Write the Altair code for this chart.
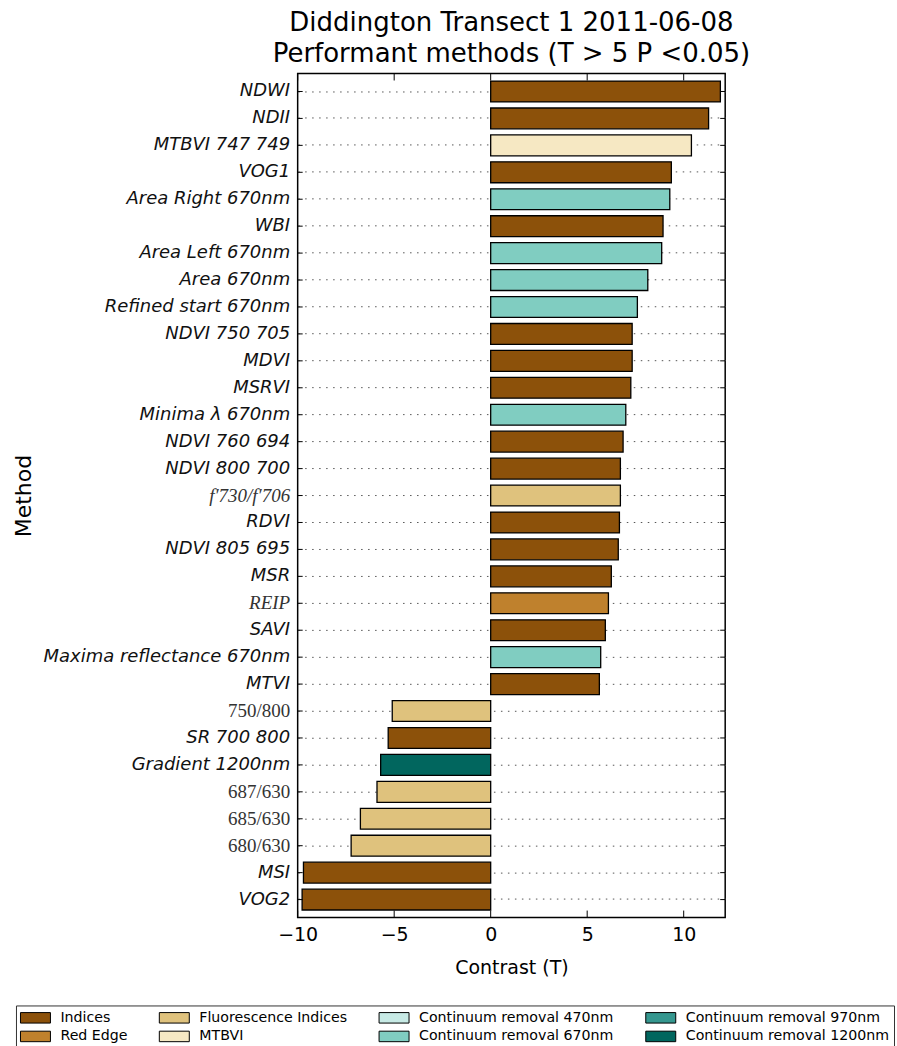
import altair as alt
import pandas as pd

methods = [
    "NDWI", "NDII", "MTBVI 747 749", "VOG1", "Area Right 670nm", "WBI",
    "Area Left 670nm", "Area 670nm", "Refined start 670nm", "NDVI 750 705",
    "MDVI", "MSRVI", "Minima λ 670nm", "NDVI 760 694", "NDVI 800 700",
    "f′730/f′706", "RDVI", "NDVI 805 695", "MSR", "REIP", "SAVI",
    "Maxima reflectance 670nm", "MTVI", "750/800", "SR 700 800",
    "Gradient 1200nm", "687/630", "685/630", "680/630", "MSI", "VOG2",
]
contrast = [
    11.90, 11.29, 10.40, 9.36, 9.28, 8.93,
    8.86, 8.14, 7.60, 7.33,
    7.33, 7.26, 7.00, 6.86, 6.72,
    6.72, 6.67, 6.61, 6.25, 6.10, 5.94,
    5.70, 5.63, -5.10, -5.31,
    -5.70, -5.89, -6.75, -7.23, -9.70, -9.77,
]
groups = [
    "Indices", "Indices", "MTBVI", "Indices", "Continuum removal 670nm", "Indices",
    "Continuum removal 670nm", "Continuum removal 670nm", "Continuum removal 670nm", "Indices",
    "Indices", "Indices", "Continuum removal 670nm", "Indices", "Indices",
    "Fluorescence Indices", "Indices", "Indices", "Indices", "Red Edge", "Indices",
    "Continuum removal 670nm", "Indices", "Fluorescence Indices", "Indices",
    "Continuum removal 1200nm", "Fluorescence Indices", "Fluorescence Indices",
    "Fluorescence Indices", "Indices", "Indices",
]

group_names = [
    "Indices", "Red Edge", "Fluorescence Indices", "MTBVI",
    "Continuum removal 470nm", "Continuum removal 670nm",
    "Continuum removal 970nm", "Continuum removal 1200nm",
]
group_colors = [
    "#8c510a", "#bf812d", "#dfc27d", "#f6e8c3",
    "#c7eae5", "#80cdc1", "#35978f", "#01665e",
]

x_ticks = [-10, -5, 0, 5, 10]

serif_upright = ["750/800", "687/630", "685/630", "680/630"]
serif_italic = ["REIP", "f′730/f′706"]

W, H = 428, 845

df = pd.DataFrame({"Method": methods, "Contrast": contrast, "Group": groups})
df_ticks = pd.DataFrame({"Contrast": x_ticks})

serif_list = "[" + ",".join("'" + s + "'" for s in serif_upright + serif_italic) + "]"
upright_list = "[" + ",".join("'" + s + "'" for s in serif_upright) + "]"

x_enc = alt.X(
    "Contrast:Q",
    scale=alt.Scale(domain=[-10, 12.15], nice=False, zero=False),
    axis=alt.Axis(
        title="Contrast (T)",
        values=x_ticks,
        ticks=False,
        labelFontSize=19,
        labelPadding=8,
        titleFontSize=19,
        titlePadding=14,
        titleFontWeight="normal",
        grid=False,
        domain=False,
        labelFlush=False,
    ),
)
y_enc = alt.Y(
    "Method:N",
    sort=methods,
    scale=alt.Scale(paddingInner=0.225, paddingOuter=0.28),
    axis=alt.Axis(
        title="Method",
        ticks=False,
        domain=False,
        labelFontSize=alt.ExprRef(
            expr="indexof(" + serif_list + ", datum.value) >= 0 ? 19 : 18"
        ),
        labelFont=alt.ExprRef(
            expr="indexof(" + serif_list + ", datum.value) >= 0 ? 'Liberation Serif' : 'DejaVu Sans'"
        ),
        labelFontStyle=alt.ExprRef(
            expr="indexof(" + upright_list + ", datum.value) >= 0 ? 'normal' : 'italic'"
        ),
        labelColor=alt.ExprRef(
            expr="indexof(" + serif_list + ", datum.value) >= 0 ? '#333333' : '#111111'"
        ),
        labelPadding=8,
        labelLimit=400,
        grid=True,
        gridDash=[1.5, 5.5],
        gridColor="#555555",
        gridWidth=1,
        titleFontSize=22,
        titleFontWeight="normal",
        titleX=-274,
        titleY=H / 2,
        titleBaseline="middle",
        titleAngle=270,
    ),
)

bars = (
    alt.Chart(df)
    .mark_bar(stroke="black", strokeWidth=1.3)
    .encode(
        x=x_enc,
        y=y_enc,
        color=alt.Color(
            "Group:N",
            scale=alt.Scale(domain=group_names, range=group_colors),
            legend=alt.Legend(
                title=None,
                orient="none",
                legendX=-282,
                legendY=933,
                columns=4,
                columnPadding=29,
                rowPadding=3,
                symbolType="M-2,-0.7H2V0.7H-2Z",
                symbolSize=225,
                symbolOffset=7.5,
                symbolStrokeColor="black",
                symbolStrokeWidth=1,
                symbolOpacity=1,
                labelOffset=17,
                labelFontSize=14.2,
                labelFont="DejaVu Sans",
                labelColor="black",
                labelLimit=300,
                strokeColor="#333333",
                fillColor="white",
                padding=4,
                offset=0,
            ),
        ),
    )
)

left_ticks = alt.Chart(df).mark_rule(color="black", strokeWidth=1).encode(
    y=alt.Y("Method:N", sort=methods), x=alt.value(0), x2=alt.value(5)
)
right_ticks = alt.Chart(df).mark_rule(color="black", strokeWidth=1).encode(
    y=alt.Y("Method:N", sort=methods), x=alt.value(W - 5), x2=alt.value(W)
)
bottom_ticks = alt.Chart(df_ticks).mark_rule(color="black", strokeWidth=1).encode(
    x="Contrast:Q", y=alt.value(H - 7), y2=alt.value(H)
)
top_ticks = alt.Chart(df_ticks).mark_rule(color="black", strokeWidth=1).encode(
    x="Contrast:Q", y=alt.value(0), y2=alt.value(7)
)

chart = (
    alt.layer(bars, left_ticks, right_ticks, bottom_ticks, top_ticks)
    .properties(
        width=W,
        height=H,
        title=alt.Title(
            ["Diddington Transect 1 2011-06-08", "Performant methods (T > 5 P <0.05)"],
            fontSize=26,
            fontWeight="normal",
            font="DejaVu Sans",
            color="black",
            anchor="middle",
            offset=6,
            lineHeight=31,
        ),
        padding={"left": 13, "top": 9, "right": 2, "bottom": 2},
        background="white",
    )
    .configure_view(stroke="black", strokeWidth=1.5)
    .configure_axis(labelFont="DejaVu Sans", titleFont="DejaVu Sans", labelColor="black", titleColor="black")
)

chart.save("out.html", embed_options={"renderer": "svg", "actions": False})
